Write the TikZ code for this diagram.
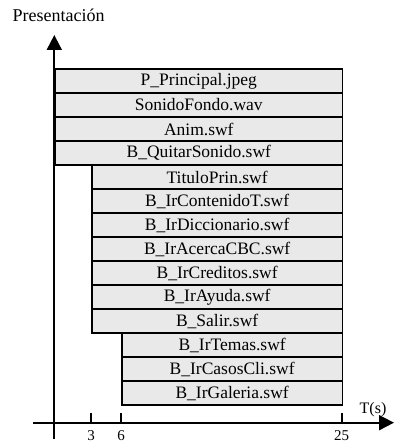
\documentclass[tikz,border=0pt]{standalone}
\usepackage{fontspec}
\setmainfont{Liberation Serif}
\usetikzlibrary{arrows.meta, positioning}
\definecolor{barfill}{HTML}{E9E9E9}
\definecolor{barline}{HTML}{000000}
\tikzset{
  bar/.style   = {rectangle, draw=barline, fill=barfill, line width=1.6pt,
                  anchor=west, minimum height=24pt, inner sep=0pt,
                  font=\fontsize{17.5}{20}\selectfont},
  lbl/.style   = {font=\fontsize{15}{17}\selectfont, inner sep=0pt},
  axis/.style  = {line width=1.8pt, -{Triangle[length=15pt, width=15pt]}},
  tick/.style  = {line width=1.6pt},
}
\begin{document}
\begin{tikzpicture}[x=1pt, y=1pt]
  \useasboundingbox (0,0) rectangle (394,443);
  % axes
  \coordinate (ybot) at (54.3,4);
  \coordinate (ytop) at (54.3,408);
  \coordinate (xleft) at (33,20.3);
  \coordinate (xright) at (394,20.3);
  \draw[axis] (ybot) -- (ytop);
  \draw[axis] (xleft) -- (xright);
  \node[lbl, anchor=west, font=\fontsize{18}{20}\selectfont] (ylbl) at (12.5,428) {Presentación};
  \node[lbl, font=\fontsize{16}{18}\selectfont] (xlbl) at (373,33) {T(s)};
  % bars
  \foreach \i/\l/\t in {0/54.3/P\_Principal.jpeg, 1/54.3/SonidoFondo.wav, 2/54.3/Anim.swf,
      3/54.3/B\_QuitarSonido.swf, 4/91/TituloPrin.swf, 5/91/B\_IrContenidoT.swf,
      6/91/B\_IrDiccionario.swf, 7/91/B\_IrAcercaCBC.swf, 8/91/B\_IrCreditos.swf,
      9/91/B\_IrAyuda.swf, 10/91/B\_Salir.swf, 11/121/B\_IrTemas.swf,
      12/121/B\_IrCasosCli.swf, 13/121/B\_IrGaleria.swf}{
    \node[bar, minimum width={341.7pt-\l pt}] (b\i) at (\l,{362-24*\i}) {\t};
  }
  % ticks
  \foreach \x/\v in {91/3, 121/6, 341.7/25}{
    \coordinate (t\v) at (\x,20.3);
    \draw[tick] (t\v) -- ++(0,9.5);
    \node[lbl] (n\v) at (\x,7.5) {\v};
  }
\end{tikzpicture}
\end{document}
